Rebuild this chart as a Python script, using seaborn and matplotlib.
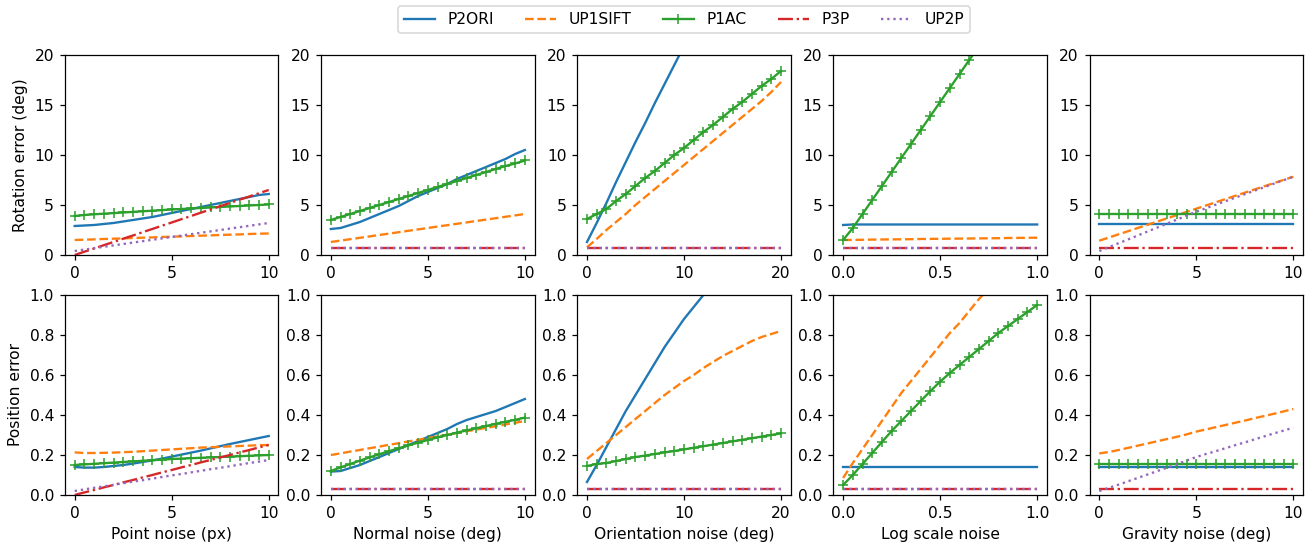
import matplotlib
matplotlib.use('Agg')
import matplotlib.pyplot as plt
import seaborn as sns

# x grids of the five experiments
x_point = [0, 0.5, 1, 1.5, 2, 2.5, 3, 3.5, 4, 4.5, 5, 5.5, 6, 6.5, 7, 7.5, 8, 8.5, 9, 9.5, 10]
x_normal = x_point
x_orient = [0, 1, 2, 3, 4, 5, 6, 7, 8, 9, 10, 11, 12, 13, 14, 15, 16, 17, 18, 19, 20]
x_scale = [0, 0.05, 0.1, 0.15, 0.2, 0.25, 0.3, 0.35, 0.4, 0.45, 0.5,
           0.55, 0.6, 0.65, 0.7, 0.75, 0.8, 0.85, 0.9, 0.95, 1.0]
x_gravity = x_point

methods = ['P2ORI', 'UP1SIFT', 'P1AC', 'P3P', 'UP2P']
xlabels = ['Point noise (px)', 'Normal noise (deg)', 'Orientation noise (deg)',
           'Log scale noise', 'Gravity noise (deg)']
xticks = [[0, 5, 10], [0, 5, 10], [0, 10, 20], [0.0, 0.5, 1.0], [0, 5, 10]]

# rotation error (deg)
rot_point = {
    'P2ORI': [2.9, 2.95, 3.0, 3.1, 3.2, 3.35, 3.5, 3.65, 3.8, 4.0, 4.2, 4.4, 4.6, 4.8, 5.0, 5.2, 5.4, 5.6, 5.8, 6.0, 6.1],
    'UP1SIFT': [1.5, 1.53, 1.56, 1.6, 1.63, 1.66, 1.7, 1.73, 1.76, 1.8, 1.83, 1.86, 1.9, 1.93, 1.96, 2.0, 2.03, 2.06, 2.1, 2.13, 2.15],
    'P1AC': [3.9, 4.0, 4.07, 4.13, 4.19, 4.25, 4.31, 4.37, 4.43, 4.49, 4.55, 4.6, 4.65, 4.7, 4.75, 4.8, 4.85, 4.9, 4.95, 5.0, 5.05],
    'P3P': [0.0, 0.33, 0.65, 0.98, 1.3, 1.63, 1.95, 2.28, 2.6, 2.93, 3.25, 3.58, 3.9, 4.23, 4.55, 4.88, 5.2, 5.53, 5.85, 6.18, 6.5],
    'UP2P': [0.4, 0.54, 0.68, 0.82, 0.96, 1.1, 1.24, 1.38, 1.52, 1.66, 1.8, 1.94, 2.08, 2.22, 2.36, 2.5, 2.64, 2.78, 2.92, 3.06, 3.2],
}
rot_normal = {
    'P2ORI': [2.6, 2.7, 3.0, 3.3, 3.7, 4.1, 4.5, 4.9, 5.4, 5.9, 6.3, 6.7, 7.1, 7.6, 8.0, 8.4, 8.8, 9.2, 9.6, 10.1, 10.5],
    'UP1SIFT': [1.3, 1.44, 1.58, 1.72, 1.86, 2.0, 2.14, 2.28, 2.42, 2.56, 2.7, 2.84, 2.98, 3.12, 3.26, 3.4, 3.54, 3.68, 3.82, 3.96, 4.1],
    'P1AC': [3.5, 3.8, 4.1, 4.4, 4.7, 5.0, 5.3, 5.6, 5.9, 6.2, 6.5, 6.8, 7.1, 7.4, 7.7, 8.0, 8.3, 8.6, 8.9, 9.15, 9.45],
    'P3P': [0.67] * 21,
    'UP2P': [0.67] * 21,
}
rot_orient = {
    'P2ORI': [1.3, 3.2, 5.2, 7.3, 9.3, 11.3, 13.2, 15.2, 17.1, 19.0, 20.9, 22.7, 24.5, 26.3, 28.0, 29.7, 31.4, 33.0, 34.6, 36.2, 37.8],
    'UP1SIFT': [0.77, 1.6, 2.5, 3.3, 4.1, 5.0, 5.8, 6.6, 7.4, 8.2, 9.0, 9.8, 10.6, 11.4, 12.2, 13.0, 13.8, 14.6, 15.4, 16.3, 17.3],
    'P1AC': [3.6, 4.1, 4.6, 5.4, 6.1, 6.9, 7.7, 8.4, 9.2, 10.0, 10.7, 11.5, 12.3, 13.0, 13.8, 14.6, 15.3, 16.1, 16.9, 17.6, 18.4],
    'P3P': [0.67] * 21,
    'UP2P': [0.67] * 21,
}
rot_scale = {
    'P2ORI': [3.0] + [3.05] * 20,
    'UP1SIFT': [1.5, 1.51, 1.52, 1.54, 1.55, 1.56, 1.57, 1.58, 1.6, 1.61, 1.62, 1.63, 1.64, 1.65, 1.66, 1.67, 1.68, 1.7, 1.71, 1.72, 1.73],
    'P1AC': [1.5, 2.7, 4.1, 5.5, 6.9, 8.3, 9.7, 11.1, 12.5, 13.9, 15.3, 16.7, 18.1, 19.5, 20.9, 22.3, 23.6, 24.9, 26.2, 27.5, 28.8],
    'P3P': [0.67] * 21,
    'UP2P': [0.67] * 21,
}
rot_gravity = {
    'P2ORI': [3.1] * 21,
    'UP1SIFT': [1.43, 1.75, 2.07, 2.39, 2.71, 3.03, 3.35, 3.67, 3.99, 4.31, 4.63, 4.95, 5.27, 5.59, 5.91, 6.23, 6.55, 6.87, 7.19, 7.51, 7.83],
    'P1AC': [4.1] * 21,
    'P3P': [0.67] * 21,
    'UP2P': [0.4, 0.79, 1.18, 1.57, 1.96, 2.36, 2.75, 3.14, 3.54, 3.93, 4.33, 4.68, 5.03, 5.38, 5.73, 6.08, 6.43, 6.78, 7.13, 7.48, 7.83],
}

# position error
pos_point = {
    'P2ORI': [0.14, 0.137, 0.137, 0.14, 0.145, 0.15, 0.157, 0.165, 0.173, 0.182, 0.192, 0.202, 0.212, 0.222, 0.233, 0.244, 0.255, 0.265, 0.275, 0.285, 0.295],
    'UP1SIFT': [0.213, 0.21, 0.21, 0.211, 0.212, 0.214, 0.216, 0.219, 0.222, 0.225, 0.228, 0.231, 0.234, 0.237, 0.239, 0.241, 0.243, 0.245, 0.247, 0.249, 0.25],
    'P1AC': [0.15, 0.153, 0.156, 0.159, 0.162, 0.165, 0.168, 0.171, 0.174, 0.177, 0.18, 0.182, 0.184, 0.186, 0.188, 0.19, 0.192, 0.194, 0.196, 0.198, 0.2],
    'P3P': [0.0, 0.013, 0.025, 0.038, 0.05, 0.063, 0.075, 0.088, 0.1, 0.113, 0.125, 0.138, 0.15, 0.163, 0.175, 0.188, 0.2, 0.213, 0.225, 0.238, 0.25],
    'UP2P': [0.02, 0.028, 0.036, 0.043, 0.051, 0.059, 0.067, 0.074, 0.082, 0.09, 0.098, 0.105, 0.113, 0.121, 0.129, 0.136, 0.144, 0.152, 0.16, 0.167, 0.175],
}
pos_normal = {
    'P2ORI': [0.117, 0.12, 0.135, 0.15, 0.17, 0.19, 0.21, 0.23, 0.25, 0.27, 0.29, 0.31, 0.33, 0.355, 0.375, 0.39, 0.405, 0.42, 0.44, 0.46, 0.48],
    'UP1SIFT': [0.2, 0.208, 0.217, 0.225, 0.234, 0.242, 0.251, 0.259, 0.268, 0.276, 0.285, 0.293, 0.302, 0.31, 0.319, 0.327, 0.336, 0.344, 0.353, 0.361, 0.37],
    'P1AC': [0.12, 0.138, 0.155, 0.172, 0.188, 0.204, 0.219, 0.234, 0.248, 0.262, 0.275, 0.288, 0.3, 0.312, 0.323, 0.334, 0.345, 0.356, 0.366, 0.376, 0.387],
    'P3P': [0.03] * 21,
    'UP2P': [0.03] * 21,
}
pos_orient = {
    'P2ORI': [0.065, 0.15, 0.24, 0.33, 0.42, 0.5, 0.58, 0.66, 0.74, 0.81, 0.88, 0.94, 1.0, 1.06, 1.12, 1.18, 1.23, 1.28, 1.33, 1.38, 1.43],
    'UP1SIFT': [0.18, 0.22, 0.26, 0.3, 0.34, 0.38, 0.42, 0.46, 0.5, 0.535, 0.57, 0.6, 0.635, 0.665, 0.695, 0.72, 0.745, 0.77, 0.79, 0.805, 0.82],
    'P1AC': [0.145, 0.155, 0.16, 0.17, 0.18, 0.19, 0.197, 0.205, 0.213, 0.22, 0.228, 0.236, 0.244, 0.252, 0.26, 0.268, 0.276, 0.284, 0.292, 0.3, 0.308],
    'P3P': [0.03] * 21,
    'UP2P': [0.03] * 21,
}
pos_scale = {
    'P2ORI': [0.138] * 21,
    'UP1SIFT': [0.085, 0.16, 0.23, 0.3, 0.37, 0.44, 0.51, 0.57, 0.63, 0.69, 0.75, 0.81, 0.86, 0.92, 0.98, 1.03, 1.08, 1.13, 1.18, 1.23, 1.28],
    'P1AC': [0.05, 0.1, 0.155, 0.21, 0.265, 0.32, 0.37, 0.42, 0.47, 0.52, 0.567, 0.61, 0.65, 0.69, 0.73, 0.77, 0.81, 0.845, 0.88, 0.915, 0.95],
    'P3P': [0.03] * 21,
    'UP2P': [0.03] * 21,
}
pos_gravity = {
    'P2ORI': [0.142] * 21,
    'UP1SIFT': [0.208, 0.215, 0.225, 0.236, 0.247, 0.258, 0.269, 0.28, 0.291, 0.303, 0.317, 0.328, 0.339, 0.35, 0.361, 0.372, 0.384, 0.395, 0.406, 0.418, 0.43],
    'P1AC': [0.155] * 21,
    'P3P': [0.03] * 21,
    'UP2P': [0.02, 0.036, 0.052, 0.069, 0.086, 0.103, 0.12, 0.137, 0.154, 0.172, 0.19, 0.205, 0.219, 0.234, 0.249, 0.263, 0.278, 0.293, 0.308, 0.322, 0.337],
}

x_grids = [x_point, x_normal, x_orient, x_scale, x_gravity]
rot_data = [rot_point, rot_normal, rot_orient, rot_scale, rot_gravity]
pos_data = [pos_point, pos_normal, pos_orient, pos_scale, pos_gravity]

green = '#2ca02c'
styles = {
    'P2ORI': dict(color='#1f77b4', linestyle='-'),
    'UP1SIFT': dict(color='#ff7f0e', linestyle='--'),
    'P1AC': dict(color=green, linestyle='-', marker='+', markersize=7,
                 markeredgecolor=green, markeredgewidth=1.0),
    'P3P': dict(color='#d62728', linestyle='-.'),
    'UP2P': dict(color='#9467bd', linestyle=':'),
}

plt.rcParams['font.size'] = 10
DPI = 112
fig, axes = plt.subplots(2, 5, figsize=(1313 / DPI, 546 / DPI), dpi=DPI)
fig.subplots_adjust(left=0.0495, right=0.9924, top=0.8993, bottom=0.0934,
                    wspace=0.2, hspace=0.2)

for col in range(5):
    for row, data in enumerate([rot_data, pos_data]):
        ax = axes[row, col]
        for m in methods:
            sns.lineplot(x=x_grids[col], y=data[col][m], ax=ax, label=m,
                         legend=False, linewidth=1.5, **styles[m])
        ax.set_xticks(xticks[col])
        if row == 0:
            ax.set_ylim(0, 20)
            ax.set_yticks([0, 5, 10, 15, 20])
            ax.set_xlabel('')
        else:
            ax.set_ylim(0, 1)
            ax.set_xlabel(xlabels[col])
        ax.set_ylabel('')

axes[0, 0].set_ylabel('Rotation error (deg)')
axes[1, 0].set_ylabel('Position error')

handles, labels = axes[0, 2].get_legend_handles_labels()
axes[0, 2].legend(handles, labels, loc='lower center', bbox_to_anchor=(0.5, 1.07),
                  ncol=5, frameon=True)

fig.savefig('out.png', dpi=DPI)
